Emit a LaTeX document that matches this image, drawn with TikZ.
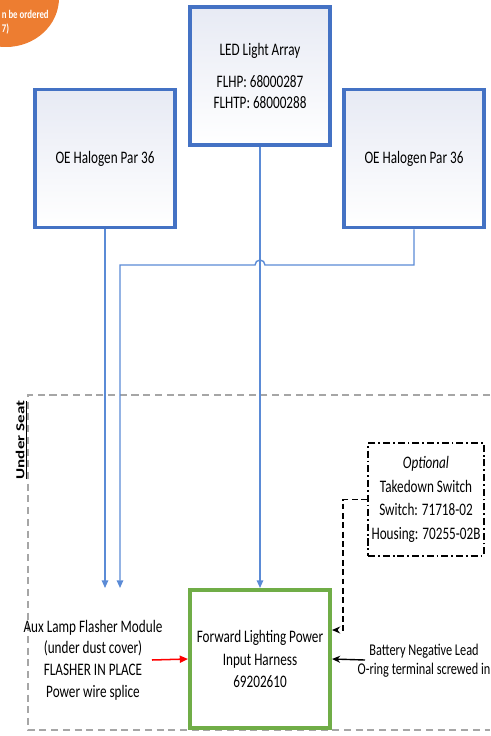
\documentclass[tikz,border=0pt]{standalone}
\usepackage{fontspec}
\setmainfont{Carlito}[FakeStretch=0.75]
\newfontfamily\plainfont{Carlito}
\usepackage{xcolor}
\usetikzlibrary{arrows.meta}
\usetikzlibrary{positioning}
\definecolor{boxblue}{RGB}{68,114,196}
\definecolor{boxfill}{RGB}{231,234,244}
\definecolor{wireblue}{RGB}{91,139,214}
\definecolor{harnessgreen}{RGB}{112,173,71}
\definecolor{noteorange}{RGB}{237,125,49}
\definecolor{seatgray}{RGB}{166,166,166}

\begin{document}
\begin{tikzpicture}[x=0.03cm,y=-0.03cm,font=\fontsize{15}{18.5}\selectfont,
    wire/.style={wireblue,line width=1.2pt},
    tip/.style={-{Triangle[length=6.5pt,width=5.5pt]}}]
    \useasboundingbox (0,0) rectangle (490,736);
    \begin{scope}
      \clip (0,0) rectangle (490,736);
      \fill[noteorange] (6,-2) ellipse [x radius=53, y radius=49];
    \end{scope}
    \node[anchor=west,text=white,font=\fontsize{10}{12}\selectfont\bfseries,inner sep=0.5pt] (noteb) at (1,14) {n be ordered};
    \node[anchor=west,text=white,font=\fontsize{10}{12}\selectfont\bfseries,inner sep=0.5pt] (notec) at (1,29) {7)};
    \draw[seatgray,line width=1.3pt,dash pattern=on 6pt off 4pt] (490,395) -- (28,395) -- (28,730) -- (490,730);
    \node[rotate=90] (seat) at (21,440) {\scalebox{1}[0.72]{\plainfont\fontsize{14.5}{16}\selectfont\bfseries\underline{Under Seat}}};
    \begin{scope}[every node/.style={draw=boxblue,line width=3.4pt,top color=boxfill,bottom color=white,
        minimum width=4.2cm,minimum height=4.14cm,align=center,inner sep=0pt}]
      \node (led) at (260,76) {LED Light Array\\[3mm]FLHP: 68000287\\FLHTP: 68000288};
      \node (hall) at (105,158.5) {OE Halogen Par 36};
      \node (halr) at (414,158.5) {OE Halogen Par 36};
    \end{scope}
    \node[draw=harnessgreen,line width=3.4pt,fill=white,minimum width=4.2cm,minimum height=4.14cm,
      align=center,inner sep=0pt] (fwd) at (260,659) {Forward Lighting Power\\[1pt]Input Harness\\[1pt]69202610};
    \node[draw=black,line width=2pt,dash pattern=on 6pt off 2.5pt on 1.5pt off 2.5pt,fill=white,
      minimum width=3.47cm,minimum height=3.38cm,align=center,inner sep=0pt] (opt) at (426,499.5)
      {\textit{Optional}\\[1.5pt]Takedown Switch\\[1.5pt]Switch: 71718-02\\[1.5pt]Housing: 70255-02B};
    \node[align=center] (aux) at (93,660) {Aux Lamp Flasher Module\\(under dust cover)\\FLASHER IN PLACE\\Power wire splice};
    \node[align=center,font=\fontsize{14}{16}\selectfont,inner sep=1pt] (bat) at (424,661) {Battery Negative Lead\\O-ring terminal screwed in};
    \coordinate (tipa) at (hall.south |- fwd.north);
    \coordinate (tipb) at (120,588);
    \coordinate (hopr) at (265,265);
    \coordinate (auxend) at (152,660);
    \coordinate (batstart) at (365,660);
    \coordinate (optbend) at (343,499.5);
    \coordinate (tipc) at (332,630);
    \draw[wire,tip] (hall.south) -- (tipa);
    \draw[wire,tip] (halr.south) |- (hopr) arc[start angle=0,end angle=-180,radius=5] -| (tipb);
    \draw[wire,tip] (led.south) -- (fwd.north);
    \draw[red,line width=1.3pt,-{Triangle[length=7pt,width=6pt]}] (auxend) -- (fwd.west);
    \draw[black,line width=1.2pt,-{Stealth[length=7pt,width=6pt]}] (batstart) -- (fwd.east);
    \draw[black,line width=1.4pt,dash pattern=on 5pt off 3pt,-{Stealth[length=7pt,width=6pt]}] (opt.west) -- (optbend) -- (optbend |- tipc) -- (tipc);
\end{tikzpicture}
\end{document}
